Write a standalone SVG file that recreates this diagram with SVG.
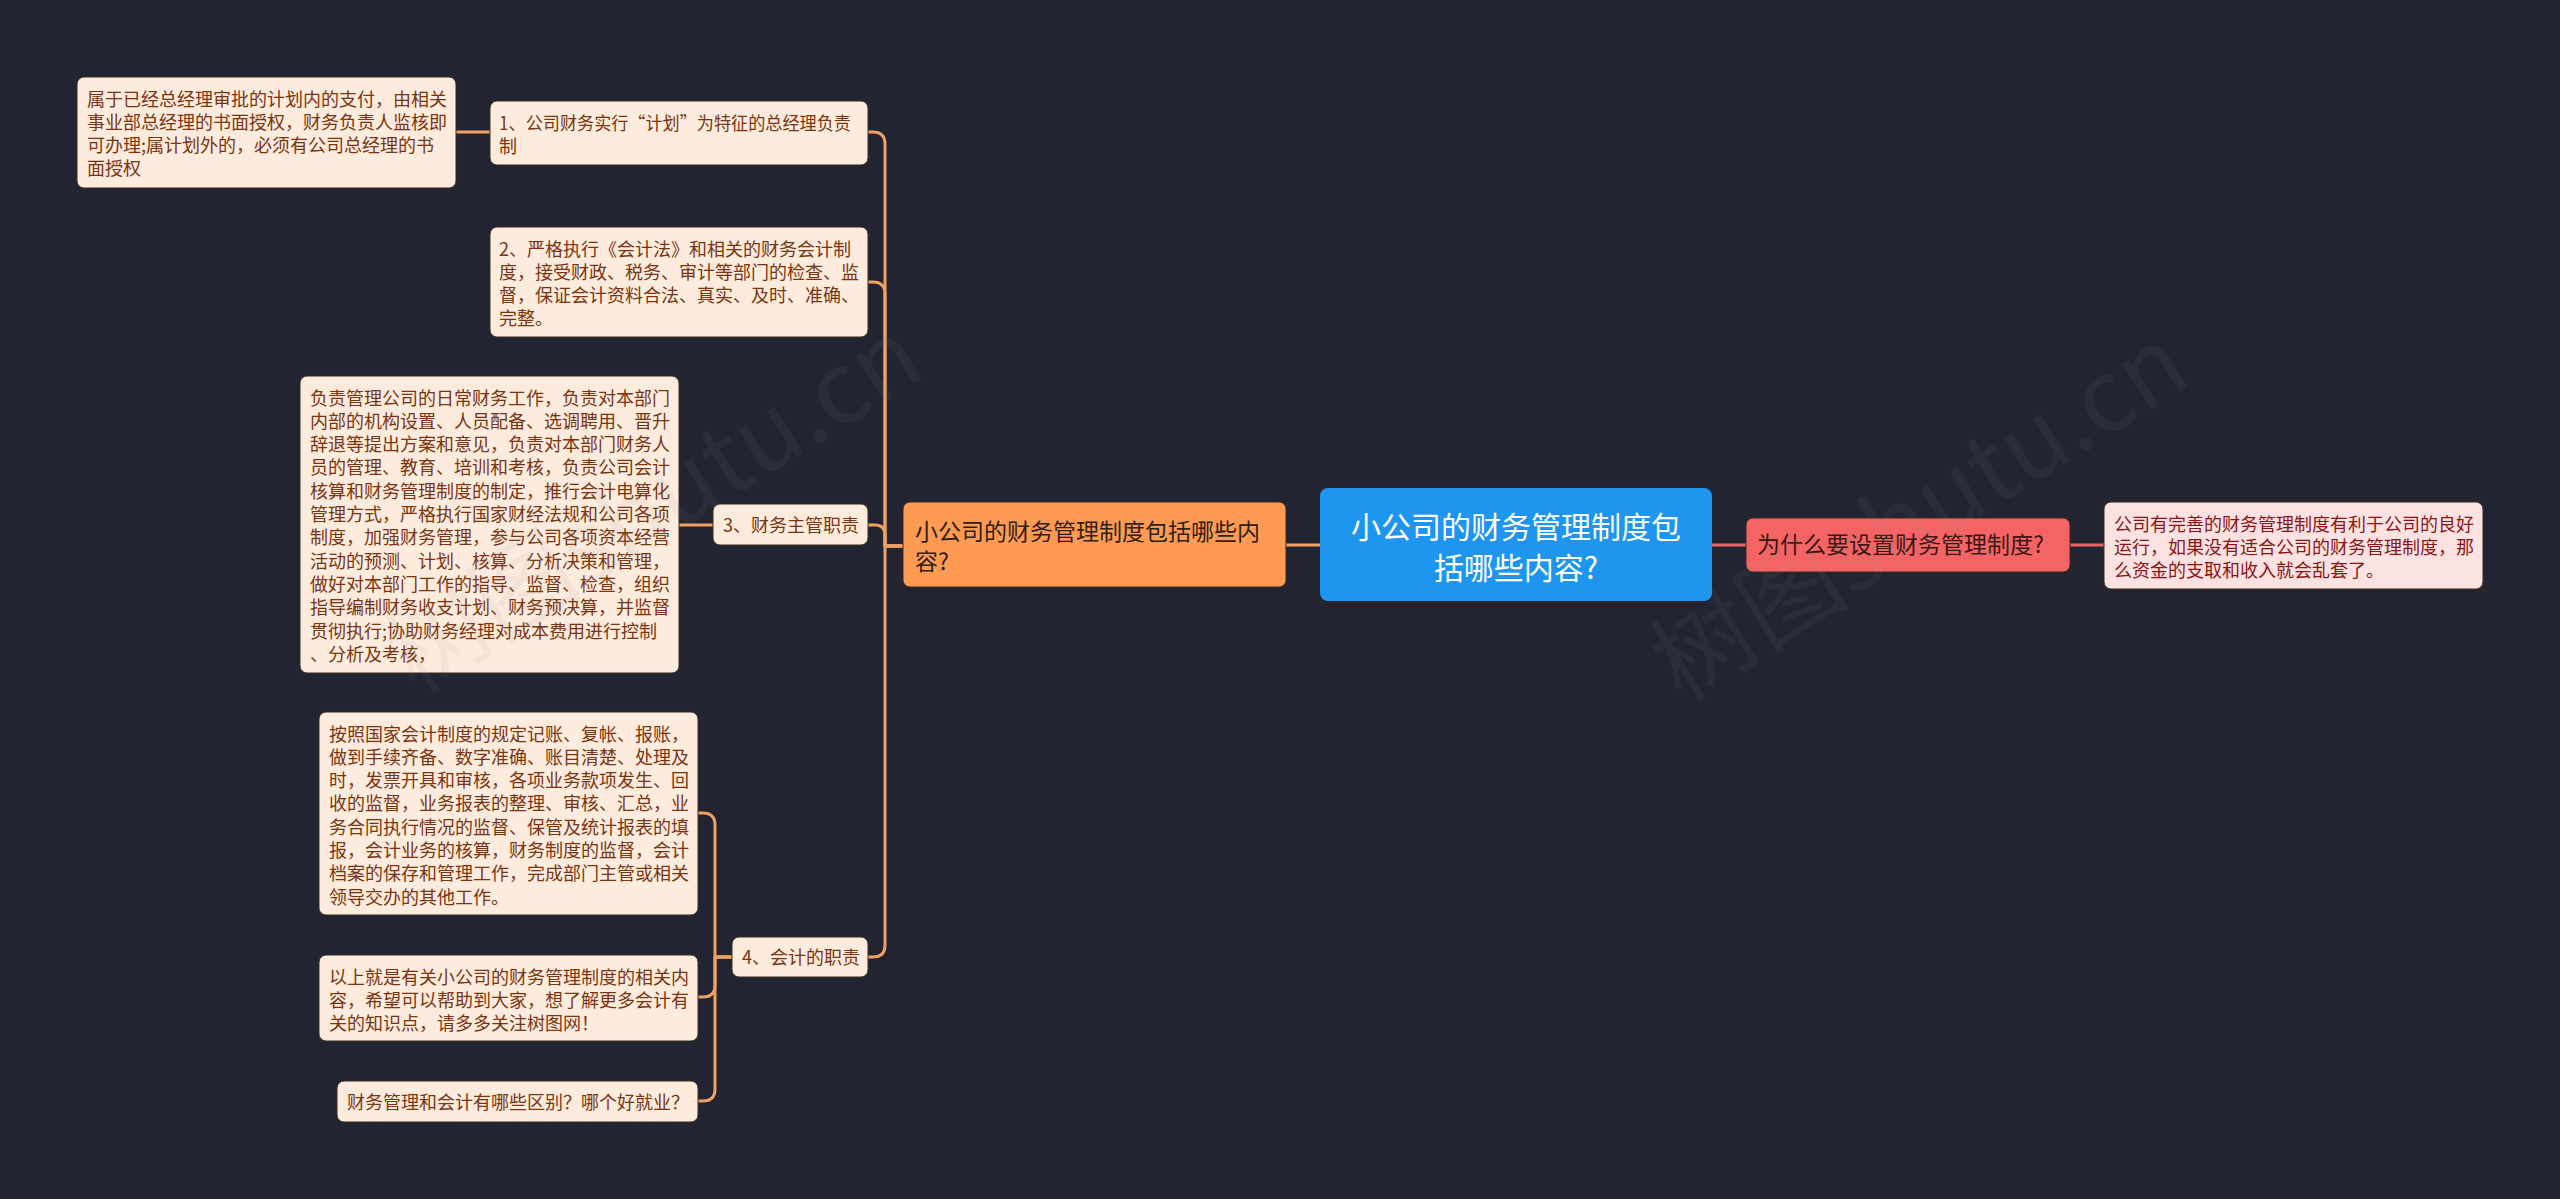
<svg xmlns="http://www.w3.org/2000/svg" width="2560" height="1199" viewBox="0 0 2560 1199">
<style>
text{font-family:"Noto Sans CJK SC","Noto Sans",sans-serif;}
.l3 rect{fill:#fdebdd;stroke:#3a2a20;stroke-width:1;}
.l3 text{font-size:18px;fill:#7a3510;}
.pk rect{fill:#fde2e2;stroke:#3a2a20;stroke-width:1;}
.pk text{font-size:18px;fill:#8b1515;}
.conn path{fill:none;stroke-width:3;stroke-linecap:round;stroke-linejoin:round;}
.co{stroke:#f0a060;}
.cr{stroke:#e56464;}
.wm{font-size:100px;fill:#8a8a8a;opacity:0.08;}
</style>
<rect x="0" y="0" width="2560" height="1199" fill="#222531"/>
<g id="connectors" class="conn">
<path class="co" d="M1320 545 H1286"/>
<path class="cr" d="M1712 545 H1746"/>
<path class="cr" d="M2070 545 H2104"/>
<path class="co" d="M903 546 H885 V144 Q885 132 873 132 H868"/>
<path class="co" d="M903 546 H885 V294 Q885 282 873 282 H868"/>
<path class="co" d="M903 546 H885 V535 Q885 525 875 525 H868"/>
<path class="co" d="M903 546 H885 V945 Q885 957 873 957 H868"/>
<path class="co" d="M490 132 H456"/>
<path class="co" d="M713 525 H679"/>
<path class="co" d="M732 957 H715 V825 Q715 813 703 813 H698"/>
<path class="co" d="M732 957 H715 V985 Q715 997 703 997 H698"/>
<path class="co" d="M732 957 H715 V1089 Q715 1101 703 1101 H698"/>
</g>
<g id="root">
<rect x="1320" y="488" width="392" height="113" rx="8" fill="#1e96ef"/>
<text x="1516" y="538" font-size="30" fill="#ffffff" text-anchor="middle">小公司的财务管理制度包</text>
<text x="1516" y="579" font-size="30" fill="#ffffff" text-anchor="middle">括哪些内容?</text>
</g>
<g id="n-left">
<rect x="903" y="502" width="383" height="85" rx="7" fill="#ff9a52" stroke="#3a2a20" stroke-width="1"/>
<text x="915" y="540" font-size="23" fill="#2e2014">小公司的财务管理制度包括哪些内</text>
<text x="915" y="570" font-size="23" fill="#2e2014">容?</text>
</g>
<g id="n-why">
<rect x="1746" y="518" width="324" height="54" rx="7" fill="#f56464" stroke="#3a2a20" stroke-width="1"/>
<text x="1757" y="553" font-size="23" fill="#3a1616">为什么要设置财务管理制度?</text>
</g>
<g id="n-why-a" class="pk">
<rect x="2104" y="502" width="379" height="87" rx="7"/>
<text x="2114" y="530.5">公司有完善的财务管理制度有利于公司的良好</text>
<text x="2114" y="553.8">运行，如果没有适合公司的财务管理制度，那</text>
<text x="2114" y="577.1">么资金的支取和收入就会乱套了。</text>
</g>
<g id="n1" class="l3">
<rect x="490" y="101" width="378" height="64" rx="7"/>
<text x="499" y="129.5" textLength="352" lengthAdjust="spacingAndGlyphs">1、公司财务实行“计划”为特征的总经理负责</text>
<text x="499" y="152.8">制</text>
</g>
<g id="n1a" class="l3">
<rect x="77" y="77" width="379" height="111" rx="7"/>
<text x="87" y="105.5">属于已经总经理审批的计划内的支付，由相关</text>
<text x="87" y="128.8">事业部总经理的书面授权，财务负责人监核即</text>
<text x="87" y="152.1">可办理;属计划外的，必须有公司总经理的书</text>
<text x="87" y="175.4">面授权</text>
</g>
<g id="n2" class="l3">
<rect x="490" y="227" width="378" height="110" rx="7"/>
<text x="499" y="255.5">2、严格执行《会计法》和相关的财务会计制</text>
<text x="499" y="278.8">度，接受财政、税务、审计等部门的检查、监</text>
<text x="499" y="302.1">督，保证会计资料合法、真实、及时、准确、</text>
<text x="499" y="325.4">完整。</text>
</g>
<g id="n3" class="l3">
<rect x="713" y="504" width="155" height="41" rx="7"/>
<text x="723" y="531.5">3、财务主管职责</text>
</g>
<g id="n3a" class="l3">
<rect x="300" y="376" width="379" height="297" rx="7"/>
<text x="310" y="404.5">负责管理公司的日常财务工作，负责对本部门</text>
<text x="310" y="427.8">内部的机构设置、人员配备、选调聘用、晋升</text>
<text x="310" y="451.1">辞退等提出方案和意见，负责对本部门财务人</text>
<text x="310" y="474.4">员的管理、教育、培训和考核，负责公司会计</text>
<text x="310" y="497.7">核算和财务管理制度的制定，推行会计电算化</text>
<text x="310" y="521">管理方式，严格执行国家财经法规和公司各项</text>
<text x="310" y="544.3">制度，加强财务管理，参与公司各项资本经营</text>
<text x="310" y="567.6">活动的预测、计划、核算、分析决策和管理，</text>
<text x="310" y="590.9">做好对本部门工作的指导、监督、检查，组织</text>
<text x="310" y="614.2">指导编制财务收支计划、财务预决算，并监督</text>
<text x="310" y="637.5">贯彻执行;协助财务经理对成本费用进行控制</text>
<text x="310" y="660.8">、分析及考核，</text>
</g>
<g id="n4" class="l3">
<rect x="732" y="937" width="136" height="40" rx="7"/>
<text x="742" y="963.5">4、会计的职责</text>
</g>
<g id="n4a" class="l3">
<rect x="319" y="712" width="379" height="203" rx="7"/>
<text x="329" y="740.5">按照国家会计制度的规定记账、复帐、报账，</text>
<text x="329" y="763.8">做到手续齐备、数字准确、账目清楚、处理及</text>
<text x="329" y="787.1">时，发票开具和审核，各项业务款项发生、回</text>
<text x="329" y="810.4">收的监督，业务报表的整理、审核、汇总，业</text>
<text x="329" y="833.7">务合同执行情况的监督、保管及统计报表的填</text>
<text x="329" y="857">报，会计业务的核算，财务制度的监督，会计</text>
<text x="329" y="880.3">档案的保存和管理工作，完成部门主管或相关</text>
<text x="329" y="903.6">领导交办的其他工作。</text>
</g>
<g id="n4b" class="l3">
<rect x="319" y="955" width="379" height="86" rx="7"/>
<text x="329" y="983.5">以上就是有关小公司的财务管理制度的相关内</text>
<text x="329" y="1006.8">容，希望可以帮助到大家，想了解更多会计有</text>
<text x="329" y="1030.1">关的知识点，请多多关注树图网！</text>
</g>
<g id="n4c" class="l3">
<rect x="337" y="1081" width="361" height="41" rx="7"/>
<text x="347" y="1108.5">财务管理和会计有哪些区别？哪个好就业？</text>
</g>
<g id="watermark">
<text class="wm" x="649" y="498" text-anchor="middle" dominant-baseline="central" transform="rotate(-32 649 498)">树图shutu.cn</text>
<text class="wm" x="1915" y="506" text-anchor="middle" dominant-baseline="central" transform="rotate(-32 1915 506)">树图shutu.cn</text>
</g>
</svg>
